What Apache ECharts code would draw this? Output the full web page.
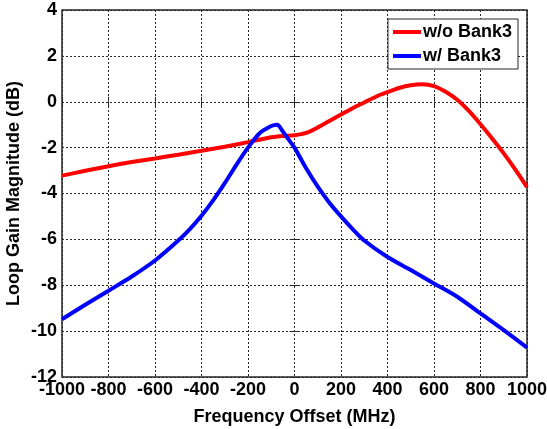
<!DOCTYPE html>
<html><head><meta charset="utf-8">
<script src="https://cdn.jsdelivr.net/npm/echarts@6/dist/echarts.min.js"></script>
<style>html,body{margin:0;padding:0;background:#fff}#c{width:547px;height:429px}</style>
</head><body><div id="c"></div>
<script>
const xTicks = [-1000,-800,-600,-400,-200,0,200,400,600,800,1000];
const yTicks = [-12,-10,-8,-6,-4,-2,0,2,4];
const redX = [-1000,-900,-800,-700,-600,-500,-400,-300,-200,-100,-50,0,50,100,150,200,250,300,350,400,450,500,550,600,650,700,750,800,850,900,950,1000];
const redY = [-3.22,-3.01,-2.81,-2.63,-2.47,-2.31,-2.14,-1.96,-1.76,-1.55,-1.49,-1.46,-1.36,-1.12,-0.84,-0.56,-0.28,-0.03,0.22,0.42,0.6,0.72,0.76,0.68,0.44,0.09,-0.40,-0.98,-1.6,-2.25,-2.96,-3.72];
const blueX = [-1000,-900,-800,-700,-600,-500,-450,-400,-350,-300,-250,-200,-150,-100,-75,-50,-25,0,50,100,150,200,250,300,400,500,600,700,800,900,1000];
const blueY = [-9.48,-8.85,-8.24,-7.62,-6.92,-6.05,-5.55,-4.97,-4.3,-3.55,-2.75,-2.0,-1.37,-1.06,-1.0,-1.3,-1.65,-2.0,-2.9,-3.7,-4.4,-5.0,-5.55,-6.05,-6.77,-7.34,-7.92,-8.5,-9.23,-9.96,-10.72];
const names = ['w/o Bank3','w/ Bank3'];

const FONT = '"Liberation Sans", Arial, sans-serif';
const dark = '#262626';
const chart = echarts.init(document.getElementById('c'), null, {renderer:'canvas'});
const zip = (a,b)=>a.map((v,i)=>[v,b[i]]);
const tickCommon = {show:true, inside:true, length:5, lineStyle:{color:dark, width:1}};
const lbl = {fontFamily:FONT, fontWeight:'bold', fontSize:18, color:'#000', margin:5, formatter:v=>String(v)};
chart.setOption({
  animation:false,
  grid:{left:62, right:20, top:10, bottom:52, outerBoundsMode:'none', containLabel:false, show:true, borderColor:dark, borderWidth:1.5, backgroundColor:'#fff'},
  legend:{
    data:names, right:29, top:19, orient:'vertical', itemGap:6, padding:[4,6,4,5],
    borderColor:dark, borderWidth:1, backgroundColor:'#fff',
    itemWidth:28, itemHeight:4, icon:'rect',
    textStyle:{fontFamily:FONT, fontWeight:'bold', fontSize:18, color:'#000', padding:[0,0,0,-3]}
  },
  xAxis:[{
    type:'value', min:-1000, max:1000, interval:200,
    name:'Frequency Offset (MHz)', nameLocation:'middle', nameGap:31, nameMoveOverlap:false,
    nameTextStyle:{fontFamily:FONT, fontWeight:'bold', fontSize:18, color:'#000'},
    axisLine:{show:false}, axisTick:tickCommon,
    axisLabel:Object.assign({}, lbl, {margin:4}),
    splitLine:{show:true, lineStyle:{type:[2,2], color:dark, width:1}}
  },{
    type:'value', min:-1000, max:1000, interval:200, position:'top',
    axisLine:{show:false}, axisTick:tickCommon, axisLabel:{show:false}, splitLine:{show:false}
  }],
  yAxis:[{
    type:'value', min:-12, max:4, interval:2,
    name:'Loop Gain Magnitude (dB)', nameLocation:'middle', nameGap:39, nameMoveOverlap:false,
    nameTextStyle:{fontFamily:FONT, fontWeight:'bold', fontSize:18, color:'#000'},
    axisLine:{show:false}, axisTick:tickCommon,
    axisLabel:lbl,
    splitLine:{show:true, lineStyle:{type:[2,2], color:dark, width:1}}
  },{
    type:'value', min:-12, max:4, interval:2, position:'right',
    axisLine:{show:false}, axisTick:tickCommon, axisLabel:{show:false}, splitLine:{show:false}
  }],
  series:[
    {name:names[0], type:'line', data:zip(redX,redY), smooth:0.3, showSymbol:false, color:'#ff0000', lineStyle:{width:4, color:'#ff0000'}},
    {name:names[1], type:'line', data:zip(blueX,blueY), smooth:0.3, showSymbol:false, color:'#0000ff', lineStyle:{width:4, color:'#0000ff'}}
  ]
});
</script></body></html>
